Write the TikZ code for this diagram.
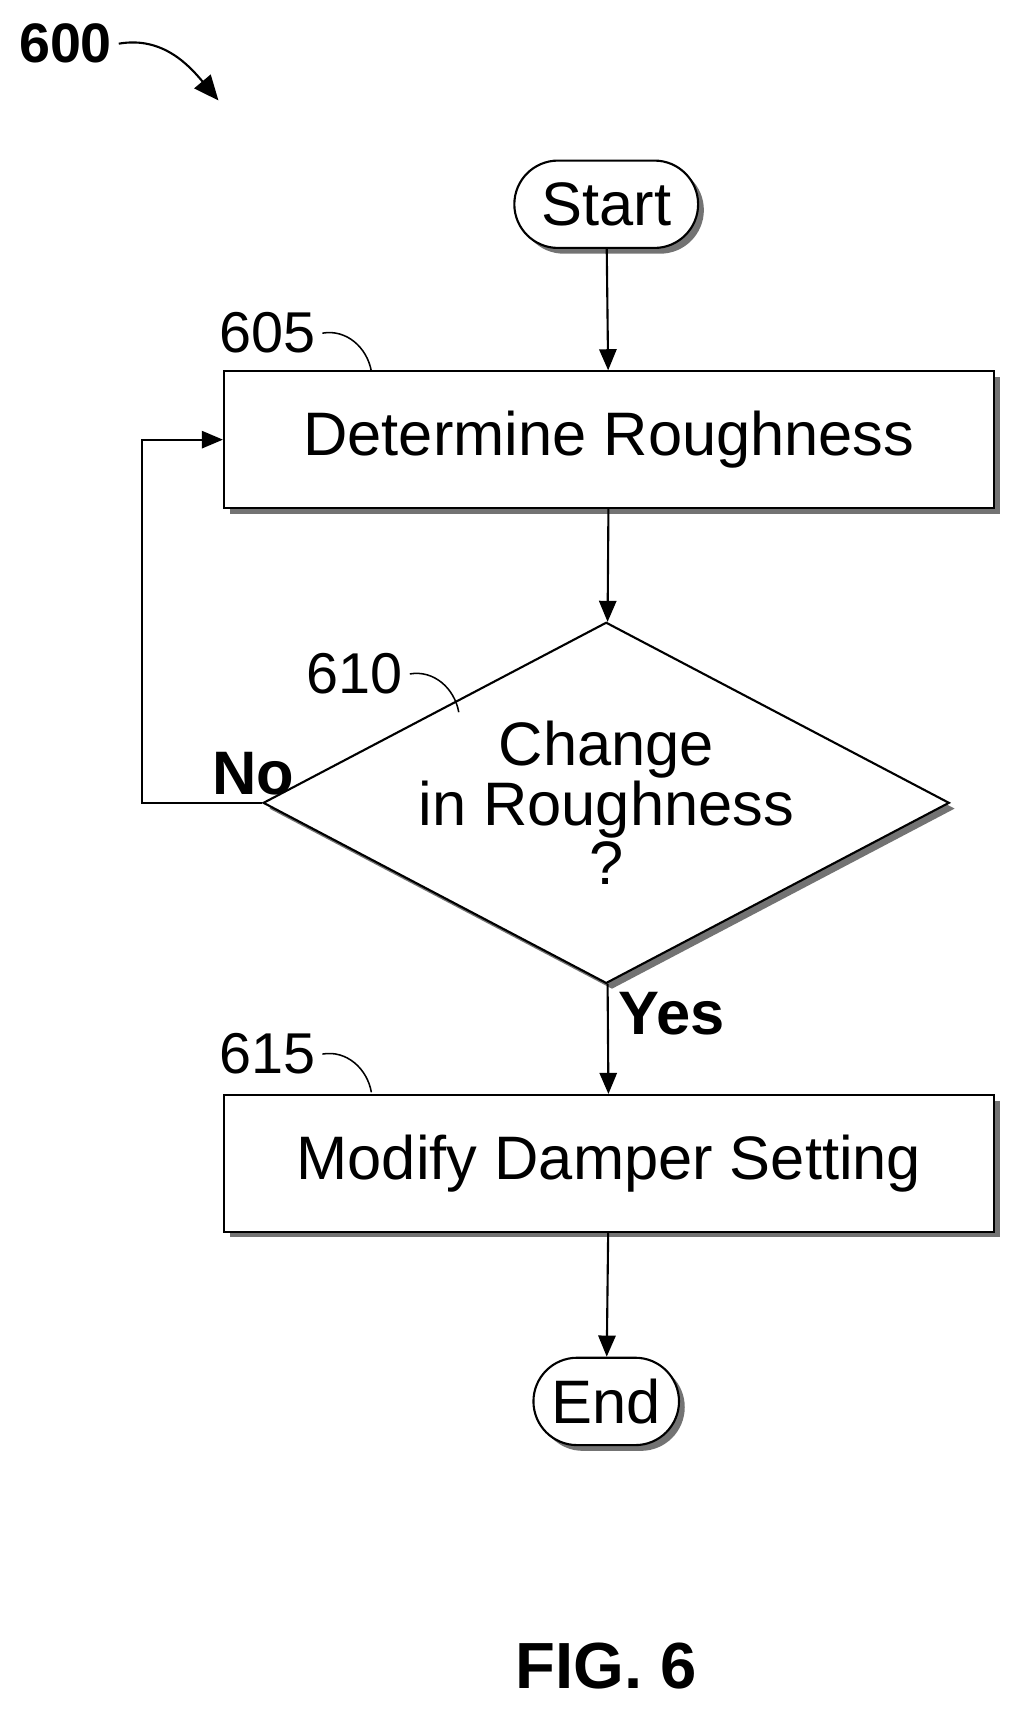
\documentclass[tikz,border=0pt]{standalone}
\usepackage{fontspec}
\setmainfont{Liberation Sans}
\usetikzlibrary{positioning, shapes.misc, shapes.geometric, arrows.meta, shadows}
\tikzset{
  shade/.style={drop shadow={shadow xshift=3pt, shadow yshift=-3pt, fill=black!55, opacity=1}},
  block/.style={rectangle, draw, line width=1.1pt, fill=white, shade, minimum width=14.1cm, minimum height=2.5cm, align=center, font=\fontsize{32}{34}\selectfont},
  roundblock/.style={rounded rectangle, draw, line width=1.1pt, fill=white, shade, minimum height=1.6cm, align=center, font=\fontsize{32}{34}\selectfont},
  decision/.style={diamond, draw, line width=1.1pt, fill=white, shade, aspect=1.9, minimum width=11.6cm, minimum height=6.1cm, inner sep=0pt, align=center, font=\fontsize{32}{31}\selectfont},
  arrow/.style={-{Triangle[length=11pt, width=9pt]}, line width=1.1pt},
  ref/.style={font=\fontsize{30}{32}\selectfont},
}
\begin{document}
\begin{tikzpicture}[x=0.02cm, y=-0.02cm]
  \useasboundingbox (0,0) rectangle (940,1582);

  % Flow
  \node[roundblock, minimum width=3.6cm] (start) at (555,187) {Start};
  \node[block] (rough) at (557.5,402.5) {Determine Roughness};
  \node[decision] (change) at (555,735) {Change\\in Roughness\\?};
  \node[block] (modify) at (557.5,1065) {Modify Damper Setting};
  \node[roundblock, minimum width=2.9cm] (end) at (555,1283) {End};

  % Arrows
  \draw[arrow] (start) -- (rough);
  \draw[arrow] (rough) -- (change);
  \draw[arrow] (change) -- (modify);
  \draw[arrow] (modify) -- (end);
  \coordinate (back) at (130,735);
  \draw[arrow] (change.west) -- (back) |- (rough.west);

  % Labels
  \node[font=\fontsize{32}{34}\selectfont\bfseries] (no) at (232,708) {No};
  \node[font=\fontsize{32}{34}\selectfont\bfseries] (yes) at (615,928) {Yes};

  % Reference numerals
  \node[ref] (n605) at (245,305) {605};
  \draw[line width=0.8pt] (n605.east) to[out=10, in=100] (340,340);
  \node[ref] (n610) at (325,617) {610};
  \draw[line width=0.8pt] (n610.east) to[out=10, in=100] (420,652);
  \node[ref] (n615) at (245,965) {615};
  \draw[line width=0.8pt] (n615.east) to[out=10, in=100] (340,1000);
  \node[font=\fontsize{29}{32}\selectfont\bfseries] (n600) at (60,40) {600};
  \draw[-{Triangle[length=13pt, width=11pt]}, line width=1.1pt] (n600.east) to[out=10, in=130] (200,92);

  \node[font=\fontsize{34}{38}\selectfont\bfseries] (fig) at (555,1525) {FIG. 6};
\end{tikzpicture}
\end{document}
